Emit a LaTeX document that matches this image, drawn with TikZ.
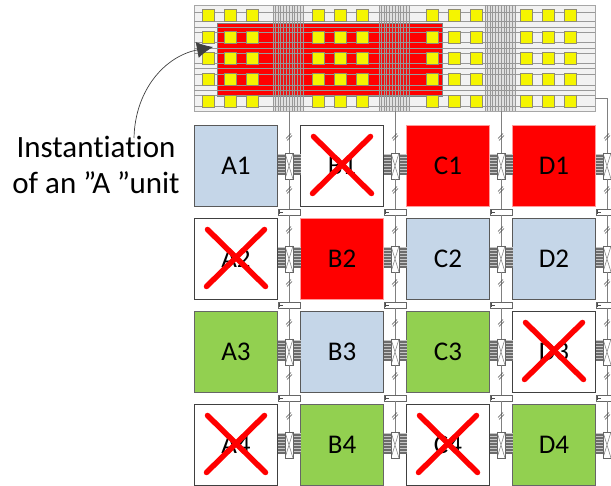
\documentclass[tikz,border=0pt]{standalone}
\usepackage{fontspec}
\setmainfont{Carlito}[Ligatures=CommonOff]
\usepackage{xcolor}
\usetikzlibrary{arrows.meta,positioning,calc}
\definecolor{unitblue}{RGB}{197,214,232}
\definecolor{unitgreen}{RGB}{146,208,80}
\definecolor{padyellow}{RGB}{245,245,0}
\definecolor{wiregray}{RGB}{128,128,128}
\begin{document}
\begin{tikzpicture}[x=1pt,y=-1pt,
  unit/.style={draw=#1,line width=0.9pt,minimum width=83pt,minimum height=81pt,outer sep=0pt,inner sep=0pt,font=\fontsize{27}{29}\selectfont},
  chip/.style={draw=gray!70,fill=gray!10,line width=1pt,minimum width=401pt,minimum height=106pt,outer sep=0pt},
  pad/.style={draw=gray!80!olive,fill=padyellow,line width=1pt,minimum size=12pt,inner sep=0pt},
  switchbox/.style={draw=black!60,fill=white,line width=0.6pt,minimum width=8pt,minimum height=26pt,inner sep=0pt,outer sep=0pt,
    path picture={\draw[black!55,line width=0.5pt]
      (path picture bounding box.north west) .. controls (path picture bounding box.center) .. (path picture bounding box.south east)
      (path picture bounding box.north east) .. controls (path picture bounding box.center) .. (path picture bounding box.south west);}},
  tagbox/.style={draw=black!60,fill=white,line width=0.6pt,minimum width=22pt,minimum height=6pt,inner sep=0pt,outer sep=0pt},
  wire/.style={wiregray,line width=0.9pt},
  trace/.style={gray!80,line width=0.7pt},
  band/.style={gray!45,line width=21pt},
  bundle/.style={gray!85!black,line width=1.3pt},
  crossout/.style={red,line width=5.5pt,line cap=round}
]
\useasboundingbox (0,0) rectangle (611,486);
\clip (0,0) rectangle (611,486);
% Instantiated chip
\node[chip] (chip) at (394.5,58.5) {};
\node[draw=gray,fill=red,line width=1pt,minimum width=225pt,minimum height=73pt,outer sep=0pt] (inst) at (329.5,60.5) {};
\foreach \y in {12,21,27,32,42,48,53,63,68,74,85,90,95,106}
  \draw[trace] (chip.west |- 0,\y) -- (chip.east |- 0,\y);
\foreach \cx in {288,394,500} {
  \fill[gray,opacity=0.15] (\cx-15,5.5) rectangle (\cx+15,111.5);
  \foreach \d in {-15,-12.5,-10,-7.5,-5,-2,1,4,6.5,9,12,15}
    \draw[trace] (\cx+\d,5.5) -- (\cx+\d,111.5);
}
\foreach \x in {208,230,252,318,340,362,432,454,476,526,548,570}
  \foreach \y in {16,38,59,80,102}
    \node[pad] (pad\x-\y) at (\x,\y) {};
% Units
\foreach \name/\cx/\cy/\col/\edge in {A1/236/166/unitblue/black!65,C1/448/166/red/red!40,D1/554/166/red/red!40,
    B2/342/259/red/red!40,C2/448/259/unitblue/black!65,D2/554/259/unitblue/black!65,
    A3/236/352/unitgreen/black!60,B3/342/352/unitblue/black!65,C3/448/352/unitgreen/black!60,
    B4/342/445/unitgreen/black!60,D4/554/445/unitgreen/black!60}
  \node[unit=\edge,fill=\col] (\name) at (\cx,\cy) {\name};
\foreach \name/\cx/\cy in {B1/342/166,A2/236/259,D3/554/352,A4/236/445,C4/448/445} {
  \node[unit=black!75,fill=white] (\name) at (\cx,\cy) {\name};
  \draw[crossout] ([shift={(13,11)}]\name.north west) -- ([shift={(-12,-13)}]\name.south east);
  \draw[crossout] ([shift={(-13,11)}]\name.north east) -- ([shift={(12,-13)}]\name.south west);
}
% Edge of the array
\foreach \r/\cy in {1/166,2/259,3/352,4/445}
  \coordinate (edge\r) at (611,\cy);
% Bundles
\foreach \r in {1,2,3,4} {
  \draw[band] ([yshift=1pt]A\r.east) -- ([yshift=1pt]B\r.west);
  \draw[band] ([yshift=1pt]B\r.east) -- ([yshift=1pt]C\r.west);
  \draw[band] ([yshift=1pt]C\r.east) -- ([yshift=1pt]D\r.west);
  \draw[band] ([yshift=1pt]D\r.east) -- ([yshift=1pt]edge\r);
  \foreach \d in {-8,-5,-2,1,4,7,10} {
    \draw[bundle] ([yshift=\d pt]A\r.east) -- ([yshift=\d pt]B\r.west);
    \draw[bundle] ([yshift=\d pt]B\r.east) -- ([yshift=\d pt]C\r.west);
    \draw[bundle] ([yshift=\d pt]C\r.east) -- ([yshift=\d pt]D\r.west);
    \draw[bundle] ([yshift=\d pt]D\r.east) -- ([yshift=\d pt]edge\r);
  }
}
% Buses, switches and tags
\foreach \c/\bx in {1/289,2/395,3/501,4/607} {
  \foreach \r/\cy in {1/166,2/259,3/352,4/445}
    \node[switchbox] (sw\c\r) at (\bx,\cy) {};
  \foreach \r/\ty in {1/212,2/305,3/398}
    \node[tagbox] (tag\c\r) at (\bx,\ty) {};
}
\coordinate (tap1) at (289,111.5);
\coordinate (tap2) at (395,111.5);
\coordinate (tap3) at (501,111.5);
\coordinate (tap4) at (607,98);
\foreach \c in {1,2,3} {
  \draw[wire] (tap\c) -- (sw\c1);
  \foreach \r/\n in {1/2,2/3,3/4} {
    \draw[wire] (sw\c\r) -- (tag\c\r);
    \draw[wire] (tag\c\r) -- (sw\c\n);
  }
}
\draw[wire] (chip.east |- tap4) -- (tap4) -- (sw41);
\foreach \r/\n in {1/2,2/3,3/4} {
  \draw[wire] (sw4\r) -- (tag4\r);
  \draw[wire] (tag4\r) -- (sw4\n);
}
% Slashes on the buses
\foreach \bx in {289,395,501,607} {
  \foreach \y in {137,190,230,283,323,376,416}
    \draw[black!70,line width=0.5pt] (\bx-3,\y+1.5) -- (\bx+2,\y-3.5) (\bx-2,\y+3.5) -- (\bx+3,\y-1.5);
  \foreach \ty in {212,305,398}
    \draw[black!70,line width=0.5pt] (\bx-10,\ty-2) -- (\bx-10,\ty+2) (\bx-10,\ty) -- (\bx-6,\ty);
}
% Label
\node[align=center,font=\fontsize{31}{36}\selectfont] (label) at (96,165) {Instantiation\\of an ”A ”unit};
\coordinate (from) at (134,138);
\draw[-{Latex[length=16pt,width=16pt]},black!75,line width=0.7pt] (from) .. controls (135,90) and (165,56) .. (213,47);
\end{tikzpicture}
\end{document}
